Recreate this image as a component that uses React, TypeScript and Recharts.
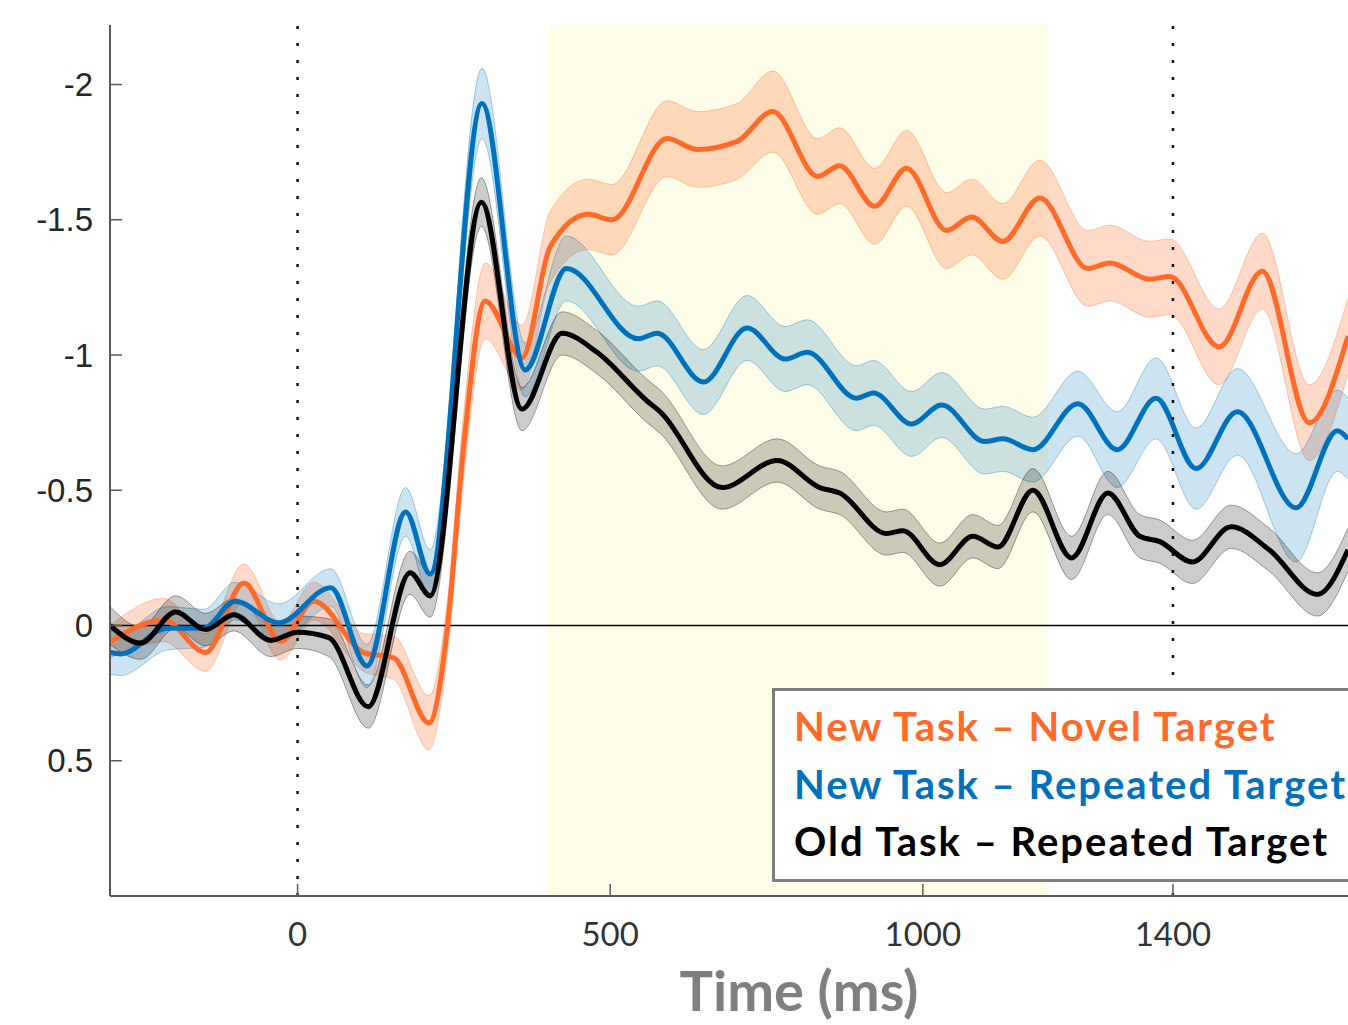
import { ComposedChart, Line, Area, XAxis, YAxis, ReferenceLine, ReferenceArea } from 'recharts'

// New Task – Novel Target (orange)
const novelTime = [-300, -214, -147, -86, -27, 26, 106, 154, 210, 240, 265, 300, 359, 404, 465, 503, 591, 639, 703, 760, 832, 867, 923, 974, 1038, 1078, 1128, 1187, 1264, 1299, 1363, 1395, 1474, 1543, 1618, 1680]
const novelMean = [0.06, -0.02, 0.1, -0.157, 0.058, -0.09, 0.1, 0.12, 0.36, 0.0, -0.65, -1.2, -0.99, -1.4, -1.52, -1.5, -1.8, -1.76, -1.79, -1.9, -1.66, -1.7, -1.55, -1.69, -1.46, -1.51, -1.42, -1.58, -1.32, -1.34, -1.28, -1.29, -1.03, -1.31, -0.75, -1.07]
const novelErr = [0.06, 0.08, 0.07, 0.07, 0.07, 0.07, 0.07, 0.08, 0.1, 0.1, 0.12, 0.14, 0.12, 0.13, 0.13, 0.13, 0.14, 0.14, 0.14, 0.15, 0.14, 0.14, 0.14, 0.14, 0.14, 0.14, 0.14, 0.14, 0.14, 0.14, 0.14, 0.14, 0.14, 0.14, 0.14, 0.14]

// New Task – Repeated Target (blue)
const repeatTime = [-300, -283, -208, -150, -100, -30, 53, 111, 173, 212, 295, 364, 430, 545, 575, 649, 719, 780, 815, 894, 921, 982, 1030, 1099, 1128, 1176, 1248, 1311, 1373, 1437, 1503, 1597, 1663, 1680]
const repeatMean = [0.1, 0.105, 0.01, 0.01, -0.09, -0.01, -0.14, 0.15, -0.42, -0.19, -1.93, -0.945, -1.32, -1.06, -1.08, -0.9, -1.1, -0.985, -1.01, -0.84, -0.86, -0.745, -0.815, -0.68, -0.69, -0.65, -0.82, -0.65, -0.84, -0.58, -0.79, -0.435, -0.72, -0.69]
const repeatErr = [0.08, 0.08, 0.08, 0.07, 0.07, 0.07, 0.07, 0.08, 0.09, 0.09, 0.13, 0.1, 0.12, 0.12, 0.12, 0.12, 0.12, 0.12, 0.12, 0.12, 0.12, 0.12, 0.12, 0.12, 0.12, 0.12, 0.12, 0.14, 0.15, 0.15, 0.16, 0.2, 0.15, 0.15]

// Old Task – Repeated Target (black)
const oldTime = [-300, -251, -195, -147, -102, -43, 0, 50, 113, 180, 212, 294, 359, 423, 479, 559, 580, 679, 767, 835, 867, 942, 968, 1027, 1080, 1120, 1176, 1238, 1296, 1347, 1379, 1431, 1493, 1554, 1631, 1680]
const oldMean = [0.0, 0.065, -0.05, 0.015, -0.04, 0.055, 0.025, 0.045, 0.3, -0.195, -0.11, -1.565, -0.8, -1.08, -1.01, -0.83, -0.79, -0.51, -0.61, -0.51, -0.49, -0.34, -0.35, -0.225, -0.33, -0.29, -0.5, -0.25, -0.49, -0.33, -0.31, -0.235, -0.365, -0.28, -0.115, -0.28]
const oldErr = [0.07, 0.06, 0.06, 0.06, 0.06, 0.06, 0.06, 0.07, 0.08, 0.08, 0.08, 0.09, 0.08, 0.08, 0.08, 0.08, 0.08, 0.08, 0.08, 0.08, 0.08, 0.08, 0.08, 0.08, 0.08, 0.08, 0.08, 0.08, 0.08, 0.08, 0.08, 0.08, 0.08, 0.08, 0.08, 0.08]

const xTicks = [0, 500, 1000, 1400]
const yTicks = [-2, -1.5, -1, -0.5, 0, 0.5]
const markers = [0, 1400]
const window_ = [400, 1200]

const ORANGE = '#FF6A28'
const BLUE = '#0072BD'
const BLACK = '#000000'

const build = (time: number[], mean: number[], err: number[]) =>
  time.map((t, i) => ({ t, v: mean[i], band: [mean[i] - err[i], mean[i] + err[i]] }))

const series = [
  { name: 'New Task – Novel Target', color: ORANGE, fillOpacity: 0.25, data: build(novelTime, novelMean, novelErr) },
  { name: 'New Task – Repeated Target', color: BLUE, fillOpacity: 0.2, data: build(repeatTime, repeatMean, repeatErr) },
  { name: 'Old Task – Repeated Target', color: BLACK, fillOpacity: 0.2, data: build(oldTime, oldMean, oldErr) },
]

const AXIS = '#5a5a5a'

export default function App() {
  return (
    <div style={{ position: 'absolute', left: 0, top: 0, width: 1348, height: 1025, overflow: 'hidden', background: '#fff' }}>
      <ComposedChart width={1348} height={1025} margin={{ top: 25, right: 0, bottom: 0, left: 0 }}>
        <ReferenceArea x1={window_[0]} x2={window_[1]} y1={-2.22} y2={1} fill="#FEFDE8" fillOpacity={1} stroke="none" />
        <XAxis
          dataKey="t"
          type="number"
          domain={[-300, 1680]}
          allowDataOverflow
          ticks={xTicks}
          height={129}
          tickSize={-12}
          tickMargin={39}
          axisLine={{ stroke: AXIS, strokeWidth: 2 }}
          tickLine={{ stroke: AXIS, strokeWidth: 1.5 }}
          tick={{ fill: '#333', fontSize: 33, fontFamily: 'Lato' }}
          label={{
            content: ({ viewBox }: any) => (
              <text
                x={viewBox.x + viewBox.width / 2 + 70}
                y={1011}
                textAnchor="middle"
                fill="#7f7f7f"
                fontSize={56}
                fontWeight={700}
                fontFamily="Lato"
              >
                Time (ms)
              </text>
            ),
          }}
        />
        <YAxis
          type="number"
          domain={[-2.22, 1]}
          reversed
          allowDataOverflow
          ticks={yTicks}
          width={110}
          tickSize={-12}
          tickMargin={29}
          axisLine={{ stroke: AXIS, strokeWidth: 2 }}
          tickLine={{ stroke: AXIS, strokeWidth: 1.5 }}
          tick={{ fill: '#262626', fontSize: 33, fontFamily: 'Liberation Sans' }}
          tickFormatter={(v: number) => String(v)}
        />
        <ReferenceLine y={0} stroke="#000" strokeWidth={1.5} />
        {series.map((s) => [
          <Area
            key={s.name + '-band'}
            data={s.data}
            dataKey="band"
            type="monotone"
            fill={s.color}
            fillOpacity={s.fillOpacity}
            stroke={s.color}
            strokeOpacity={0.35}
            strokeWidth={1}
            isAnimationActive={false}
            dot={false}
            activeDot={false}
          />,
          <Line
            key={s.name + '-line'}
            data={s.data}
            dataKey="v"
            type="monotone"
            stroke={s.color}
            strokeWidth={5}
            dot={false}
            activeDot={false}
            isAnimationActive={false}
          />,
        ])}
        {markers.map((m) => (
          <ReferenceLine key={m} x={m} stroke="#111" strokeWidth={2.5} strokeDasharray="3 14" />
        ))}
      </ComposedChart>
      <div
        style={{
          position: 'absolute',
          left: 772,
          top: 688,
          width: 600,
          height: 194,
          boxSizing: 'border-box',
          border: '3px solid #7d7d7d',
          background: '#fff',
          paddingTop: 7,
          paddingLeft: 19,
          fontFamily: 'Lato',
          fontWeight: 700,
          fontSize: 40,
          letterSpacing: '2px',
          lineHeight: '57.5px',
          whiteSpace: 'nowrap',
        }}
      >
        {series.map((s) => (
          <div key={s.name} style={{ color: s.color }}>
            {s.name}
          </div>
        ))}
      </div>
    </div>
  )
}
